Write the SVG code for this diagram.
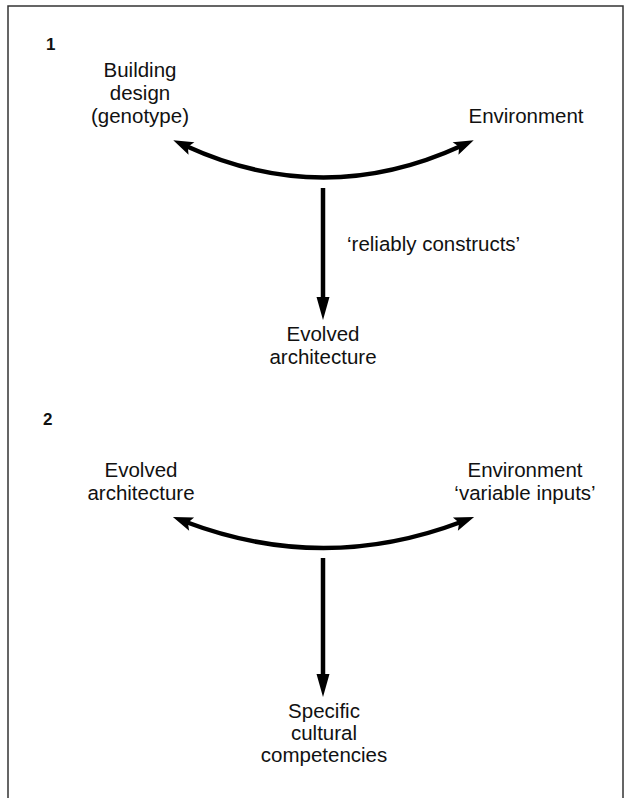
<svg xmlns="http://www.w3.org/2000/svg" width="632" height="798" viewBox="0 0 632 798">
<style>
  text { font-family: "Liberation Sans", Arial, sans-serif; fill: #111; }
  .lbl { font-size: 20.5px; text-anchor: middle; }
  .num { font-size: 17px; font-weight: bold; }
  .edge { fill: none; stroke: #000; stroke-width: 4.5; }
</style>
<defs>
  <marker id="curveHead" markerUnits="userSpaceOnUse" orient="auto-start-reverse" refX="0" refY="0" markerWidth="30" markerHeight="30" overflow="visible">
    <path d="M14,0 L-6,-7 L-2,0 L-6,7 Z" fill="#000"/>
  </marker>
  <marker id="downHead" markerUnits="userSpaceOnUse" orient="auto" refX="0" refY="0" markerWidth="30" markerHeight="30" overflow="visible">
    <path d="M20,0 L-3,-6.5 L-3,6.5 Z" fill="#000"/>
  </marker>
</defs>
<rect x="8" y="6" width="615" height="810" fill="#fff" stroke="#333" stroke-width="1.5"/>

<g id="panel1-label"><text class="num" x="46" y="50">1</text></g>
<g id="building-design">
  <text class="lbl" x="140" y="77">Building</text>
  <text class="lbl" x="140" y="100">design</text>
  <text class="lbl" x="140" y="123">(genotype)</text>
</g>
<g id="environment-1"><text class="lbl" x="526" y="123">Environment</text></g>
<g id="evolved-architecture-1">
  <text class="lbl" x="323" y="341">Evolved</text>
  <text class="lbl" x="323" y="364">architecture</text>
</g>

<g id="panel2-label"><text class="num" x="43" y="425">2</text></g>
<g id="evolved-architecture-2">
  <text class="lbl" x="141" y="477">Evolved</text>
  <text class="lbl" x="141" y="500">architecture</text>
</g>
<g id="environment-2">
  <text class="lbl" x="525" y="477">Environment</text>
  <text class="lbl" x="525" y="500">‘variable inputs’</text>
</g>
<g id="specific-competencies">
  <text class="lbl" x="324" y="718">Specific</text>
  <text class="lbl" x="324" y="740">cultural</text>
  <text class="lbl" x="324" y="762">competencies</text>
</g>

<g id="connectors">
  <path class="edge" d="M186,146 Q323.5,209 461,146" marker-start="url(#curveHead)" marker-end="url(#curveHead)"/>
  <path class="edge" d="M323,188 L323,300" marker-end="url(#downHead)"/>
  <text x="347" y="251" style="font-size:20.5px">‘reliably constructs’</text>
  <path class="edge" d="M186,522 Q323.5,574 461,522" marker-start="url(#curveHead)" marker-end="url(#curveHead)"/>
  <path class="edge" d="M323,558 L323,677" marker-end="url(#downHead)"/>
</g>
</svg>
